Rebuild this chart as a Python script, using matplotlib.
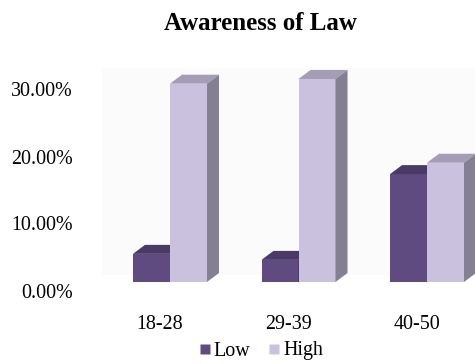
import matplotlib
matplotlib.use("Agg")
import matplotlib.pyplot as plt
from matplotlib.patches import Polygon, Rectangle
from matplotlib.lines import Line2D
from matplotlib.transforms import ScaledTranslation
import numpy as np

# Data
categories = ["18-28", "29-39", "40-50"]
series_names = ["Low", "High"]
low = [4.2, 3.3, 16.1]
high = [29.6, 30.3, 17.8]
yticks = [0, 10, 20, 30]

# Colours (front, top, side)
LOW_C = ("#5f4b80", "#4a3a66", "#3f3157")
HIGH_C = ("#c9c1dd", "#a49db5", "#857f94")

plt.rcParams["font.family"] = ["Liberation Serif", "DejaVu Serif"]

W, H, DPI = 475, 364, 100
fig = plt.figure(figsize=(W / DPI, H / DPI), dpi=DPI)

# Plot area in pixel terms
left_px, right_px = 80, 475
floor_px, top_px = 282, 61
px_per_cat = 128.5
px_per_pct = 6.7
first_center_px = 170

ax = fig.add_axes([left_px / W, 1 - floor_px / H,
                   (right_px - left_px) / W, (floor_px - top_px) / H])
ax.set_xlim(-(first_center_px - left_px) / px_per_cat,
            (right_px - first_center_px) / px_per_cat)
ax.set_ylim(0, (floor_px - top_px) / px_per_pct)

# faint back wall
wall = Rectangle(((102 - left_px) / (right_px - left_px), 0.03),
                 1, (floor_px - 68) / (floor_px - top_px) - 0.03,
                 transform=ax.transAxes, facecolor="#fbfbfc",
                 edgecolor="none", zorder=0)
ax.add_patch(wall)

x = np.arange(len(categories))
bw = 37 / px_per_cat
dx = 12 / px_per_cat
dy = 9 / px_per_pct


def draw_bar3d(xc, h, colors, z):
    front, top, side = colors
    x0, x1 = xc - bw / 2, xc + bw / 2
    ax.bar(xc, h, bw, color=front, linewidth=0, zorder=z)
    ax.add_patch(Polygon([(x0, h), (x1, h), (x1 + dx, h + dy), (x0 + dx, h + dy)],
                         closed=True, facecolor=top, edgecolor="none", zorder=z))
    ax.add_patch(Polygon([(x1, 0), (x1 + dx, dy), (x1 + dx, h + dy), (x1, h)],
                         closed=True, facecolor=side, edgecolor="none", zorder=z))


for i in range(len(categories)):
    draw_bar3d(x[i] - bw / 2, low[i], LOW_C, 2)
    draw_bar3d(x[i] + bw / 2, high[i], HIGH_C, 3)

for s in ax.spines.values():
    s.set_visible(False)
ax.set_facecolor("none")

ax.set_yticks(yticks)
ax.set_yticklabels([f"{v:.2f}%" for v in yticks], fontsize=14.4)
ax.tick_params(axis="y", length=0, pad=5)
for lab in ax.get_yticklabels():
    lab.set_transform(lab.get_transform() +
                      ScaledTranslation(0, -8.5 / DPI, fig.dpi_scale_trans))

ax.set_xticks(x)
ax.set_xticklabels(categories, fontsize=14.4)
ax.tick_params(axis="x", length=0, pad=24)
for lab in ax.get_xticklabels():
    lab.set_transform(lab.get_transform() +
                      ScaledTranslation(-10 / DPI, 0, fig.dpi_scale_trans))

fig.text(260 / W, 1 - 30 / H, "Awareness of Law", ha="center", va="baseline",
         fontsize=18, fontweight="bold")

handles = [Line2D([], [], linestyle="none", marker="s", markersize=7,
                  markerfacecolor=LOW_C[0], markeredgecolor="none"),
           Line2D([], [], linestyle="none", marker="s", markersize=7,
                  markerfacecolor=HIGH_C[0], markeredgecolor="none")]
fig.legend(handles, series_names, loc="center", ncol=2,
           bbox_to_anchor=(261 / W, 1 - 351 / H), frameon=False,
           fontsize=14.4, handlelength=0.6, handletextpad=0.15,
           columnspacing=0.9, borderpad=0)

fig.savefig("out.png", dpi=DPI)
